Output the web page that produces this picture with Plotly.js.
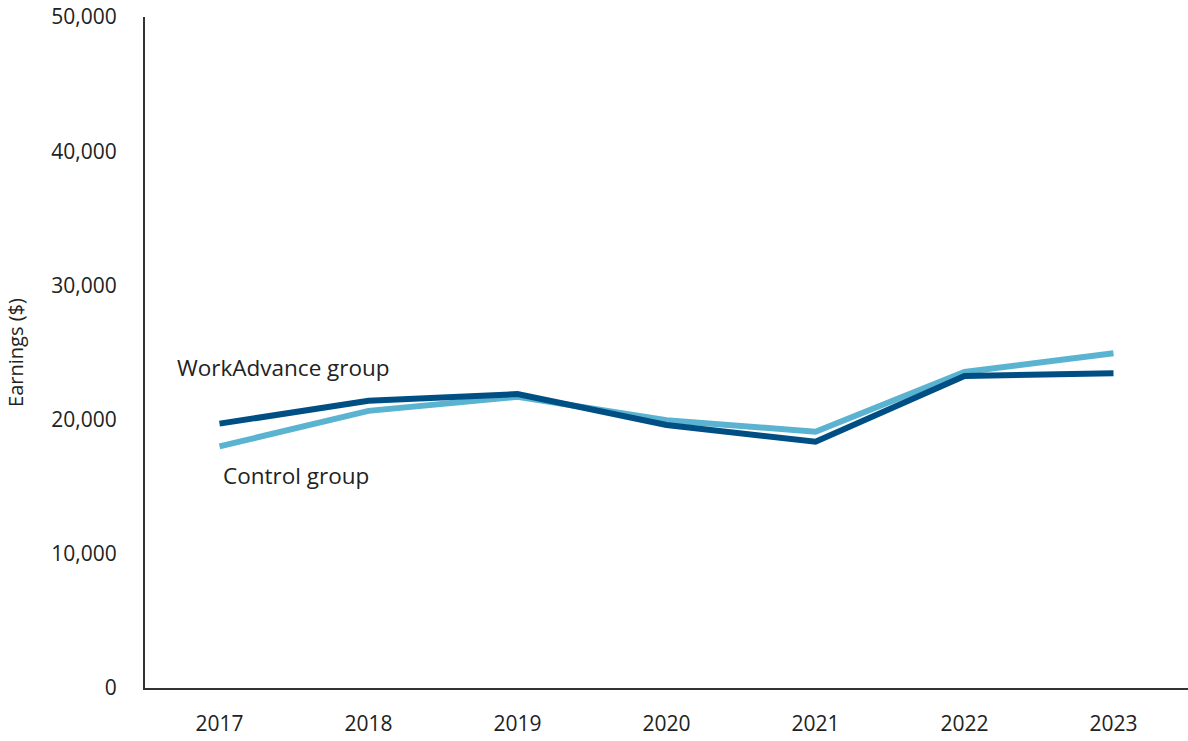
<!DOCTYPE html>
<html>
<head>
<meta charset="utf-8">
<script src="https://cdn.plot.ly/plotly-3.0.1.min.js"></script>
<style>html,body{margin:0;padding:0;background:#fff}#chart{width:1188px;height:741px}</style>
</head>
<body>
<div id="chart"></div>
<script>
const years = ["2017","2018","2019","2020","2021","2022","2023"];
const workAdvance = [19700, 21400, 21900, 19600, 18350, 23250, 23450];
const control = [18000, 20650, 21700, 19950, 19100, 23550, 24950];
const yTicks = [0, 10000, 20000, 30000, 40000, 50000];
const yTickLabels = ["0", "10,000", "20,000", "30,000", "40,000", "50,000"];

const font = "Open Sans, Noto Sans, sans-serif";
const traces = [
  {x: years, y: control, type: "scatter", mode: "lines", name: "Control group",
   line: {color: "#5ab4d1", width: 6}},
  {x: years, y: workAdvance, type: "scatter", mode: "lines", name: "WorkAdvance group",
   line: {color: "#004f84", width: 6}}
];
const layout = {
  width: 1188, height: 741,
  margin: {l: 145, r: 0, t: 17, b: 53},
  paper_bgcolor: "#fff", plot_bgcolor: "#fff",
  showlegend: false,
  font: {family: font, color: "#222", size: 21},
  xaxis: {
    type: "category", range: [-0.5, 6.5],
    showgrid: false, zeroline: false, showline: true, linecolor: "#333", linewidth: 2,
    ticks: "", ticklabelstandoff: 16, tickfont: {size: 21, color: "#222"}
  },
  yaxis: {
    range: [0, 50000], tickvals: yTicks, ticktext: yTickLabels,
    showgrid: false, zeroline: false, showline: true, linecolor: "#333", linewidth: 2,
    ticks: "", ticklabelstandoff: 22, tickfont: {size: 21, color: "#222"},
    title: {text: "Earnings ($)", font: {size: 20, color: "#222"}, standoff: 22}
  },
  annotations: [
    {x: 0, y: 23850, xref: "x", yref: "y", text: "WorkAdvance group", showarrow: false,
     xanchor: "left", yanchor: "middle", xshift: -45, font: {size: 22.5, color: "#222"}},
    {x: 0, y: 15870, xref: "x", yref: "y", text: "Control group", showarrow: false,
     xanchor: "left", yanchor: "middle", xshift: 1, font: {size: 22.5, color: "#222"}}
  ]
};
Plotly.newPlot("chart", traces, layout, {displayModeBar: false, staticPlot: true});
</script>
</body>
</html>
